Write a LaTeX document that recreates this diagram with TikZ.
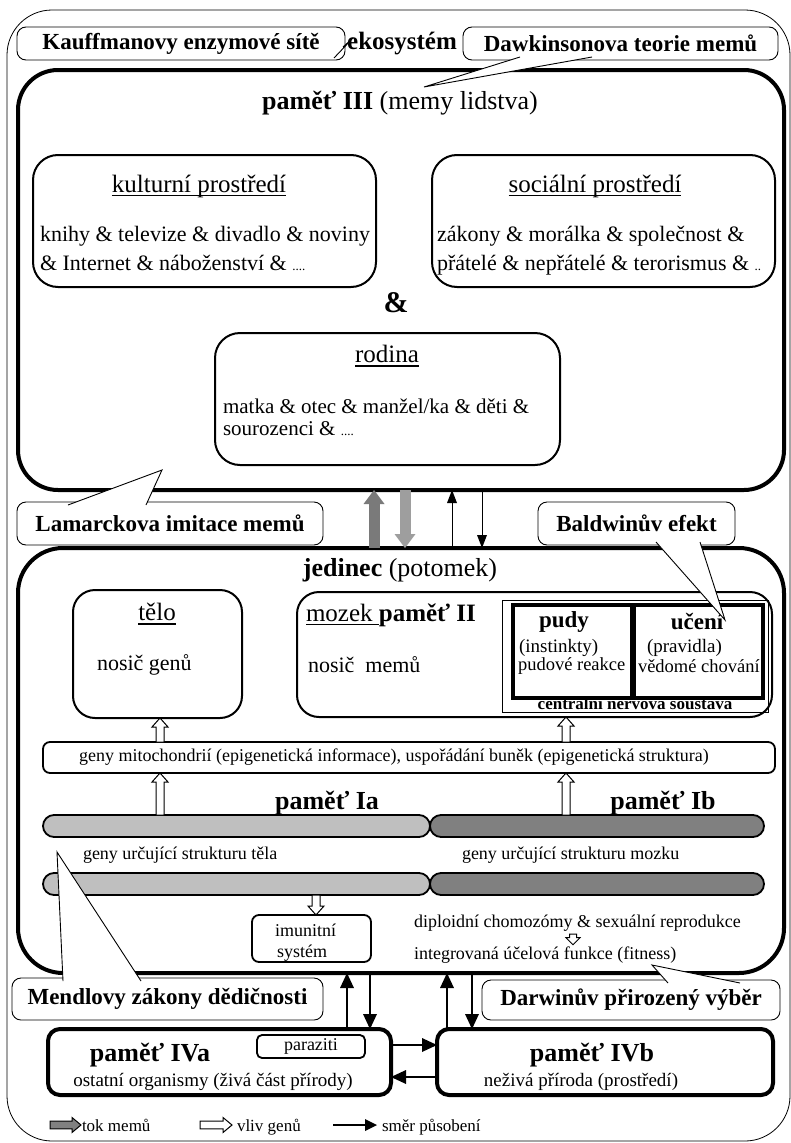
\documentclass[tikz,border=0pt]{standalone}
\usepackage{fontspec}
\setmainfont{Liberation Serif}
\usetikzlibrary{arrows.meta,calc}
\newcommand\fsz[1]{\fontsize{#1}{#1}\selectfont}
% heavier underline than the default one
\newcommand\ulx[1]{\setbox0=\hbox{#1}\makebox[0pt][l]{\rule[-0.17em]{\wd0}{0.065em}}\box0}
\begin{document}
\begin{tikzpicture}[x=1pt,y=-1pt,
  box/.style={draw, rectangle, inner sep=0pt, outer sep=0pt},
  dims/.style 2 args={minimum width=#1pt, minimum height=#2pt},
  big/.style={box, line width=4pt, rounded corners=40pt},
  mid/.style={box, line width=2pt, rounded corners=22pt},
  small/.style={box, line width=1.8pt, rounded corners=7pt},
  thick box/.style={box, line width=4pt, rounded corners=12pt},
  drive/.style={box, line width=4.5pt},
  bar/.style={box, line width=1.8pt, rounded corners=11pt},
  txt/.style={inner sep=0pt, outer sep=0pt},
  callout/.style={box, line width=0.9pt, rounded corners=9pt, fill=white},
  tail/.style={fill=white, draw, line width=0.9pt, line join=miter},
  fine/.style={line width=1pt, -{Triangle[length=13pt,width=10pt,line width=0pt]}},
  heavy/.style={line width=2.5pt, -{Triangle[length=15pt,width=14pt,line width=0pt]}},
  memflow/.style={line width=11pt, -{Triangle[length=14pt,width=21pt,line width=0pt]}},
  % outlined block arrow: half shaft width, half head width, head length
  hollow/.style n args={3}{line width=1pt, line join=miter, to path={
    ($(\tikztostart)!#1!90:(\tikztotarget)$)
    -- ($($(\tikztotarget)!#3!(\tikztostart)$)!#1!90:(\tikztotarget)$)
    -- ($($(\tikztotarget)!#3!(\tikztostart)$)!#2!90:(\tikztotarget)$)
    -- (\tikztotarget)
    -- ($($(\tikztotarget)!#3!(\tikztostart)$)!#2!-90:(\tikztotarget)$)
    -- ($($(\tikztotarget)!#3!(\tikztostart)$)!#1!-90:(\tikztotarget)$)
    -- ($(\tikztostart)!#1!-90:(\tikztotarget)$) -- cycle}},
  gene/.style={draw, fill=white, hollow={4pt}{8pt}{9pt}},
]
\useasboundingbox (0,0) rectangle (791,1143);

% ecosystem frame
\node[box, line width=0.8pt, rounded corners=45pt, dims={783}{1131}] (eco) at (398.5,575.5) {};
\node[txt] (ekolabel) at (402,44) {\fsz{25}\bfseries ekosystém};

% memory III
\node[big, dims={766}{420}] (mem3) at (401,280) {};
\node[txt] (mem3title) at (400,103) {\fsz{26}\textbf{paměť III} (memy lidstva)};

\node[mid, rounded corners=25pt, dims={343}{132}] (kult) at (204.5,221) {};
\node[txt] (kulth) at (199,186) {\fsz{25}\ulx{kulturní prostředí}};
\node[txt, anchor=base west] (kult1) at (40,241) {\fsz{22}knihy \& televize \& divadlo \& noviny};
\node[txt, anchor=base west] (kult2) at (40,270) {\fsz{22}\& Internet \& náboženství \& {\fsz{13}....}};

\node[mid, rounded corners=25pt, dims={343}{132}] (soc) at (603.5,221) {};
\node[txt] (soch) at (595,186) {\fsz{25}\ulx{sociální prostředí}};
\node[txt, anchor=base west] (soc1) at (437,241) {\fsz{22}zákony \& morálka \& společnost \&};
\node[txt, anchor=base west] (soc2) at (437,270) {\fsz{22}přátelé \& nepřátelé \& terorismus \& {\fsz{13}..}};

\node[txt] (amp) at (396,303) {\fsz{30}\bfseries \&};

\node[mid, rounded corners=25pt, dims={345}{132}] (rod) at (387.5,399) {};
\node[txt] (rodh) at (387,356) {\fsz{25}\ulx{rodina}};
\node[txt, anchor=base west] (rod1) at (223,413) {\fsz{21}matka \& otec \& manžel/ka \& děti \&};
\node[txt, anchor=base west] (rod2) at (223,435) {\fsz{21}sourozenci \& {\fsz{13}....}};

% individual
\node[big, rounded corners=45pt, dims={766}{425}] (jed) at (401,760.5) {};
\node[txt] (jedtitle) at (400,570) {\fsz{26}\textbf{jedinec} (potomek)};

\node[mid, dims={169}{128}] (telo) at (157.5,654) {};
\node[txt] (teloh) at (157,614) {\fsz{25}\ulx{tělo}};
\node[txt, anchor=west] (telot) at (97,665) {\fsz{22}nosič genů};

\node[mid, dims={475}{125}] (mozek) at (534.5,654.5) {};
\node[txt, anchor=west] (mozekh) at (306,615) {\fsz{25}\ulx{mozek\ }\textbf{paměť II}};
\node[txt, anchor=west] (mozekt) at (308,665) {\fsz{22}nosič\ \ memů};

\node[box, line width=0.8pt, dims={266}{112}] (cns) at (635,656) {};
\node[drive, dims={119}{93}] (pudy) at (572.5,651.5) {};
\node[drive, dims={129}{93}] (uceni) at (698.5,651.5) {};
\node[txt] (pudyh) at (564,622) {\fsz{23}\bfseries pudy};
\node[txt, anchor=west] (pudy1) at (519,648) {\fsz{19}(instinkty)};
\node[txt, anchor=west] (pudy2) at (518,666) {\fsz{18.5}pudové reakce};
\node[txt] (ucenih) at (697,622) {\fsz{23}\bfseries učení};
\node[txt, anchor=west] (uceni1) at (647,648) {\fsz{19}(pravidla)};
\node[txt, anchor=west] (uceni2) at (638,666) {\fsz{18.5}vědomé chování};
\node[txt] (cnsl) at (635,704) {\fsz{17}\bfseries centrální nervová soustava};

\node[small, dims={732}{31}] (epi) at (409,757.5) {};
\node[txt] (epit) at (394,757) {\fsz{18}geny mitochondrií (epigenetická informace), uspořádání buněk (epigenetická struktura)};

\node[txt] (memIa) at (327,803) {\fsz{26}\bfseries paměť Ia};
\node[txt] (memIb) at (663,803) {\fsz{26}\bfseries paměť Ib};

\node[bar, fill=black!25, dims={387}{22}] (barA1) at (236.5,826) {};
\node[bar, fill=black!50, dims={334}{22}] (barB1) at (597,826) {};
\node[txt, anchor=west] (genA) at (83,855) {\fsz{18}geny určující strukturu těla};
\node[txt, anchor=west] (genB) at (462,855) {\fsz{18}geny určující strukturu mozku};
\node[bar, fill=black!25, dims={387}{22}] (barA2) at (236.5,884) {};
\node[bar, fill=black!50, dims={334}{22}] (barB2) at (597,884) {};

\node[small, dims={119}{47}] (imm) at (311.5,938.5) {};
\node[txt, anchor=west] (imm1) at (275,930) {\fsz{18}imunitní};
\node[txt, anchor=west] (imm2) at (277,953) {\fsz{18}systém};

\node[txt, anchor=west] (dipl) at (414,923) {\fsz{18}diploidní chomozómy \& sexuální reprodukce};
\node[txt, anchor=west] (fit) at (414,955) {\fsz{18}integrovaná účelová funkce (fitness)};

% gene influence arrows
\coordinate (xT) at (160,0);
\coordinate (xM) at (566,0);
\coordinate (xI) at (316,0);
\coordinate (xD) at (573,0);
\draw[gene] (xT |- epi.north) to (xT |- telo.south);
\draw[gene] (xM |- epi.north) to (xM |- mozek.south);
\draw[gene] (xT |- barA1.north) to (xT |- epi.south);
\draw[gene] (xM |- barB1.north) to (xM |- epi.south);
\draw[gene] (xI |- barA2.south) to (xI |- imm.north);
\draw[draw, fill=white, hollow={3.5pt}{7pt}{7pt}] ($(xD |- dipl.south)+(0,3)$) to ($(xD |- fit.north)+(0,-2)$);

% meme flow and influence between memory III and the individual
\coordinate (xA) at (374,0);
\coordinate (xB) at (405,0);
\coordinate (xC) at (452,0);
\coordinate (xE) at (482,0);
\draw[memflow, draw=black!52] (xA |- jed.north) -- (xA |- mem3.south);
\draw[memflow, draw=black!38] (xB |- mem3.south) -- (xB |- jed.north);
\draw[fine] (xC |- jed.north) -- (xC |- mem3.south);
\draw[fine] (xE |- mem3.south) -- (xE |- jed.north);

% memory IV
\node[thick box, dims={343}{66}] (IVa) at (219.5,1062) {};
\node[thick box, dims={336}{66}] (IVb) at (605,1062) {};
\node[small, rounded corners=5pt, dims={108}{23}] (par) at (311,1046.5) {\fsz{18}paraziti};
\node[txt] (IVah) at (150,1055) {\fsz{26}\bfseries paměť IVa};
\node[txt] (IVat) at (213,1082) {\fsz{19}ostatní organismy (živá část přírody)};
\node[txt] (IVbh) at (592,1055) {\fsz{26}\bfseries paměť IVb};
\node[txt] (IVbt) at (581,1082) {\fsz{19}neživá příroda (prostředí)};

\coordinate (xF) at (347,0);
\coordinate (xG) at (370,0);
\coordinate (xH) at (447,0);
\coordinate (xJ) at (472,0);
\coordinate (yR) at (0,1045);
\coordinate (yL) at (0,1077);
\draw[heavy] (xF |- IVa.north) -- (xF |- jed.south);
\draw[heavy] (xG |- jed.south) -- (xG |- IVa.north);
\draw[heavy] (xH |- IVb.north) -- (xH |- jed.south);
\draw[heavy] (xJ |- jed.south) -- (xJ |- IVb.north);
\draw[heavy] (IVa.east |- yR) -- (IVb.west |- yR);
\draw[heavy] (IVb.west |- yL) -- (IVa.east |- yL);

% legend
\coordinate (lmA) at (50,1125);
\coordinate (lmB) at (81,1125);
\draw[fill=black!50, hollow={3.8pt}{7.5pt}{9pt}] (lmA) to (lmB);
\node[txt, anchor=base west] (legmemt) at (82,1131) {\fsz{17}tok memů};
\coordinate (lgA) at (200,1125);
\coordinate (lgB) at (232,1125);
\draw[gene, hollow={3.8pt}{7.5pt}{9pt}] (lgA) to (lgB);
\node[txt, anchor=base west] (leggent) at (237,1131) {\fsz{17}vliv genů};
\coordinate (legA) at (333,1125);
\coordinate (legB) at (377,1125);
\draw[line width=1.2pt, -{Triangle[length=12pt,width=12pt,line width=0pt]}] (legA) -- (legB);
\node[txt, anchor=base west] (legdirt) at (382,1131) {\fsz{17}směr působení};

% callouts
\node[callout, dims={328}{33}] (kauf) at (181,43.5) {\fsz{23}\bfseries Kauffmanovy enzymové sítě};
\path[tail] (343,47) -- (353,38) -- (334,58);
\node[callout, dims={315}{33}] (dawk) at (620.5,43.5) {\fsz{23}\bfseries Dawkinsonova teorie memů};
\path[tail] (520,57) -- (424,87) -- (592,57);
\node[callout, dims={306}{43}] (lam) at (170,523.5) {\fsz{23}\bfseries Lamarckova imitace memů};
\path[tail] (68,505) -- (162,470) -- (146,505);
\node[callout, dims={197}{43}] (bald) at (636.5,523.5) {\fsz{23}\bfseries Baldwinův efekt};
\path[tail] (656,542) -- (725,620) -- (700,542);
\node[callout, dims={311}{42}] (mend) at (167.5,999) {\fsz{23}\bfseries Mendlovy zákony dědičnosti};
\path[tail] (63,981) -- (57,852) -- (141,981);
\node[callout, dims={298}{40}] (darw) at (631,1000) {\fsz{23}\bfseries Darwinův přirozený výběr};
\path[tail] (668,983) -- (652,965) -- (740,983);
\end{tikzpicture}
\end{document}
